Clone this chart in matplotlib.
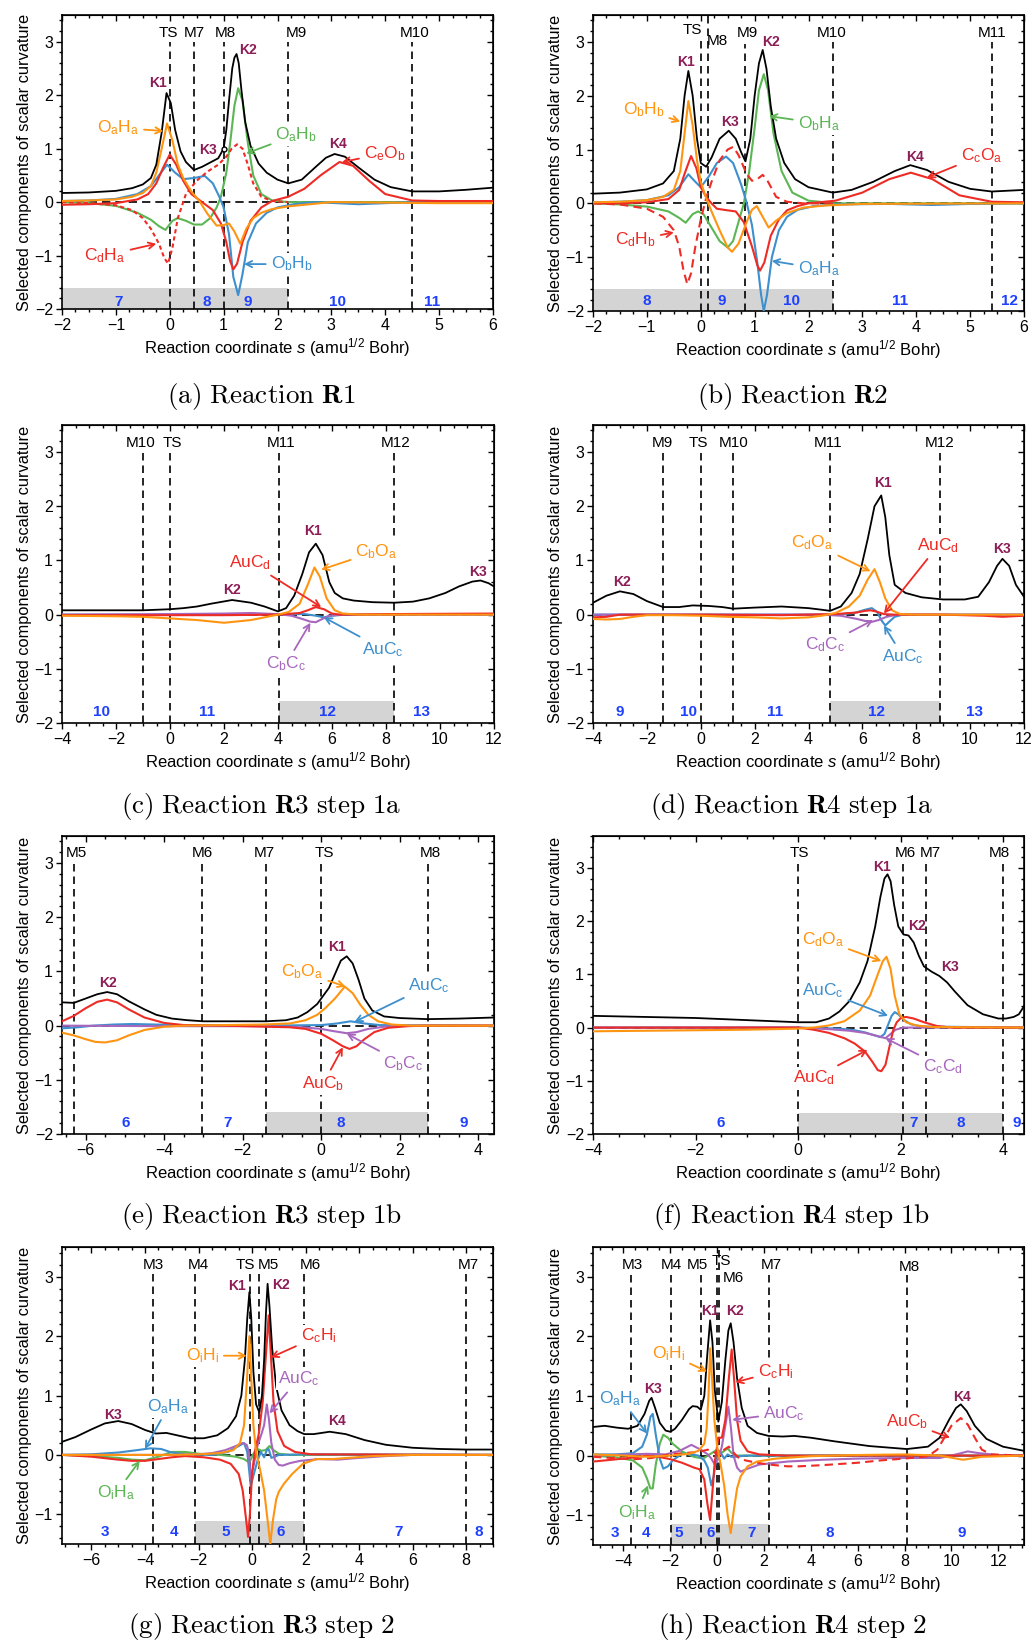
import matplotlib.pyplot as plt
from matplotlib.ticker import MultipleLocator

plt.rcParams['font.family'] = ['Liberation Sans', 'DejaVu Sans']
plt.rcParams['mathtext.fontset'] = 'custom'
plt.rcParams['mathtext.rm'] = 'Liberation Sans'
plt.rcParams['mathtext.it'] = 'Liberation Sans:italic'
plt.rcParams['mathtext.bf'] = 'Liberation Sans:bold'

BLACK = 'black'
ORANGE = '#FF9410'
RED = '#EE2B25'
GREEN = '#5BB653'
BLUE = '#3D8FCD'
PURPLE = '#A867BE'
KCOL = '#8C1D57'
NUMCOL = '#1E40FF'

# ---------------- (a) Reaction R1 ----------------
a_k_s = [-2, -1.5, -1, -0.7, -0.5, -0.35, -0.25, -0.15, -0.06, 0.02, 0.1, 0.2, 0.3, 0.45, 0.6, 0.75, 0.9, 1.0, 1.05, 1.1, 1.16, 1.2, 1.24, 1.28, 1.33, 1.4, 1.5, 1.65, 1.8, 2.0, 2.2, 2.45, 2.7, 2.9, 3.06, 3.25, 3.5, 3.8, 4.1, 4.5, 5.0, 5.5, 6.0]
a_k_v = [0.17, 0.18, 0.21, 0.26, 0.33, 0.45, 0.7, 1.3, 2.04, 1.85, 1.35, 0.95, 0.75, 0.6, 0.66, 0.74, 0.82, 1.0, 1.35, 1.9, 2.5, 2.7, 2.77, 2.6, 2.1, 1.5, 1.05, 0.72, 0.55, 0.42, 0.35, 0.42, 0.65, 0.83, 0.9, 0.85, 0.65, 0.42, 0.28, 0.2, 0.2, 0.23, 0.27]
a_o_s = [-2, -1.5, -1, -0.7, -0.5, -0.35, -0.25, -0.15, -0.05, 0.05, 0.15, 0.25, 0.4, 0.55, 0.7, 0.87, 1.0, 1.1, 1.2, 1.31, 1.42, 1.55, 1.7, 1.9, 2.2, 2.6, 3.0, 4.0, 5.0, 6.0]
a_o_v = [0.02, 0.03, 0.05, 0.1, 0.17, 0.3, 0.55, 1.0, 1.47, 1.15, 0.7, 0.45, 0.2, 0.02, -0.22, -0.44, -0.43, -0.4, -0.55, -0.78, -0.5, -0.3, -0.2, -0.13, -0.08, -0.04, 0, -0.01, -0.02, -0.02]
a_r_s = [-2, -1.5, -1, -0.6, -0.4, -0.25, -0.12, 0, 0.12, 0.25, 0.4, 0.6, 0.8, 0.95, 1.05, 1.12, 1.18, 1.25, 1.35, 1.5, 1.7, 1.9, 2.2, 2.5, 2.8, 3.15, 3.4, 3.7, 4.0, 4.5, 5.0, 6.0]
a_r_v = [-0.05, -0.04, -0.02, 0.05, 0.15, 0.35, 0.65, 0.89, 0.7, 0.4, 0.15, 0, -0.15, -0.4, -0.75, -1.1, -1.26, -1.15, -0.75, -0.35, -0.1, 0.02, 0.1, 0.25, 0.5, 0.75, 0.68, 0.4, 0.15, 0.03, 0.02, 0.02]
a_rd_s = [-2, -1.5, -1, -0.7, -0.5, -0.35, -0.2, -0.1, -0.03, 0.05, 0.15, 0.3, 0.5, 0.7, 0.9, 1.05, 1.15, 1.25, 1.35, 1.45, 1.55, 1.7, 1.9, 2.2]
a_rd_v = [0, -0.02, -0.06, -0.15, -0.3, -0.5, -0.78, -1.05, -1.15, -0.85, -0.3, 0.15, 0.4, 0.57, 0.7, 0.85, 1.0, 1.08, 1.0, 0.7, 0.35, 0.1, 0.02, 0]
a_g_s = [-2, -1.5, -1, -0.6, -0.35, -0.2, -0.08, 0.05, 0.15, 0.3, 0.45, 0.6, 0.75, 0.87, 0.95, 1.05, 1.12, 1.2, 1.27, 1.35, 1.45, 1.55, 1.7, 1.9, 2.2, 3, 6]
a_g_v = [0, -0.02, -0.07, -0.2, -0.33, -0.45, -0.52, -0.35, -0.3, -0.35, -0.42, -0.42, -0.3, -0.1, 0.1, 0.55, 1.1, 1.8, 2.13, 1.9, 1.1, 0.5, 0.15, 0.03, 0, 0, 0]
a_b_s = [-2, -1.5, -1, -0.6, -0.35, -0.2, -0.05, 0.1, 0.25, 0.45, 0.65, 0.8, 0.92, 1.0, 1.1, 1.18, 1.27, 1.35, 1.45, 1.6, 1.8, 2.0, 2.3, 2.7, 3.5, 4.5, 6.0]
a_b_v = [0.02, 0.03, 0.06, 0.15, 0.3, 0.5, 0.7, 0.55, 0.43, 0.45, 0.49, 0.35, 0.1, -0.1, -0.6, -1.4, -1.74, -1.35, -0.75, -0.4, -0.2, -0.1, -0.04, 0, -0.04, 0, 0]
a_vx = [0, 0.45, 1.0, 2.2, 4.5]
a_vname = ['TS', 'M7', 'M8', 'M9', 'M10']
a_region_x = [-0.95, 0.69, 1.45, 3.11, 4.86]
a_region = ['7', '8', '9', '10', '11']

# ---------------- (b) Reaction R2 ----------------
b_k_s = [-2, -1.5, -1, -0.7, -0.5, -0.38, -0.3, -0.23, -0.15, -0.07, 0, 0.1, 0.2, 0.35, 0.52, 0.65, 0.75, 0.83, 0.92, 1.0, 1.08, 1.15, 1.22, 1.3, 1.4, 1.55, 1.75, 2.0, 2.45, 2.8, 3.2, 3.6, 3.89, 4.2, 4.6, 5.0, 5.4, 6.0]
b_k_v = [0.18, 0.2, 0.26, 0.37, 0.6, 1.2, 2.0, 2.46, 2.0, 1.2, 0.75, 0.68, 0.85, 1.2, 1.35, 1.2, 0.95, 0.78, 1.2, 2.0, 2.6, 2.85, 2.5, 1.8, 1.2, 0.75, 0.45, 0.3, 0.2, 0.25, 0.4, 0.6, 0.71, 0.62, 0.4, 0.27, 0.22, 0.25]
b_o_s = [-2, -1.5, -1, -0.7, -0.5, -0.38, -0.3, -0.23, -0.15, -0.07, 0, 0.1, 0.2, 0.35, 0.5, 0.58, 0.7, 0.85, 0.95, 1.04, 1.15, 1.26, 1.4, 1.6, 1.9, 2.3, 3, 6]
b_o_v = [0.02, 0.03, 0.06, 0.12, 0.25, 0.6, 1.3, 1.9, 1.45, 0.8, 0.4, 0.1, -0.15, -0.5, -0.82, -0.9, -0.75, -0.35, -0.12, -0.05, -0.25, -0.45, -0.32, -0.18, -0.08, -0.04, -0.01, 0]
b_r_s = [-2, -1.5, -1, -0.6, -0.4, -0.3, -0.18, -0.08, 0, 0.1, 0.2, 0.3, 0.5, 0.65, 0.8, 0.95, 1.05, 1.1, 1.18, 1.3, 1.45, 1.6, 1.8, 2.0, 2.5, 3.0, 3.5, 3.9, 4.3, 4.8, 5.4, 6]
b_r_v = [0, 0, 0.02, 0.08, 0.25, 0.55, 0.88, 0.65, 0.3, 0.12, 0, -0.1, -0.13, -0.15, -0.35, -0.8, -1.15, -1.25, -1.1, -0.6, -0.3, -0.13, -0.05, 0, 0.05, 0.2, 0.45, 0.57, 0.45, 0.15, 0.03, 0.02]
b_rd_s = [-2, -1.5, -1, -0.7, -0.5, -0.4, -0.32, -0.25, -0.18, -0.1, 0, 0.1, 0.2, 0.35, 0.5, 0.6, 0.7, 0.85, 0.95, 1.05, 1.15, 1.25, 1.4, 1.6, 1.9, 2.5]
b_rd_v = [0, -0.02, -0.1, -0.25, -0.5, -0.8, -1.25, -1.5, -1.3, -0.8, -0.3, 0.1, 0.4, 0.8, 1.0, 1.05, 0.9, 0.55, 0.42, 0.45, 0.53, 0.4, 0.12, 0.03, 0, 0]
b_g_s = [-2, -1.5, -1, -0.6, -0.4, -0.28, -0.15, -0.05, 0.05, 0.2, 0.35, 0.5, 0.6, 0.7, 0.8, 0.9, 1.0, 1.08, 1.17, 1.25, 1.35, 1.5, 1.7, 2.0, 2.5, 6]
b_g_v = [0, -0.02, -0.06, -0.15, -0.27, -0.36, -0.2, -0.15, -0.2, -0.45, -0.7, -0.82, -0.7, -0.35, 0, 0.6, 1.4, 2.1, 2.4, 2.1, 1.3, 0.6, 0.2, 0.05, 0, 0]
b_b_s = [-2, -1.5, -1, -0.6, -0.4, -0.23, -0.1, 0, 0.15, 0.3, 0.47, 0.6, 0.75, 0.85, 0.95, 1.05, 1.12, 1.17, 1.23, 1.32, 1.45, 1.6, 1.8, 2.1, 2.5, 3.5, 4.3, 5, 6]
b_b_v = [0.02, 0.03, 0.06, 0.15, 0.3, 0.54, 0.4, 0.3, 0.5, 0.75, 0.87, 0.75, 0.35, 0.02, -0.4, -1.1, -1.7, -2.0, -1.7, -1.0, -0.5, -0.25, -0.12, -0.05, -0.02, -0.01, -0.03, -0.01, 0]
b_vx = [0, 0.13, 0.83, 2.45, 5.4]
b_vname = ['TS', 'M8', 'M9', 'M10', 'M11']
b_region_x = [-1.01, 0.39, 1.69, 3.7, 5.73]
b_region = ['8', '9', '10', '11', '12']

# ---------------- (c) Reaction R3 step 1a ----------------
c_k_s = [-4, -2, -1, 0, 0.5, 1.0, 1.5, 2.3, 3.0, 3.5, 4.0, 4.3, 4.6, 4.9, 5.15, 5.4, 5.65, 5.9, 6.1, 6.4, 6.8, 7.5, 8.3, 9.0, 9.6, 10.2, 10.7, 11.2, 11.5, 11.8, 12.0]
c_k_v = [0.08, 0.08, 0.08, 0.1, 0.12, 0.15, 0.2, 0.27, 0.22, 0.15, 0.06, 0.12, 0.35, 0.75, 1.15, 1.31, 1.1, 0.6, 0.4, 0.3, 0.26, 0.23, 0.22, 0.24, 0.3, 0.4, 0.52, 0.61, 0.63, 0.58, 0.52]
c_o_s = [-4, -2, -1, 0, 1, 2, 3, 3.5, 4.0, 4.4, 4.8, 5.1, 5.35, 5.55, 5.8, 6.1, 6.4, 7, 12]
c_o_v = [-0.02, -0.03, -0.04, -0.07, -0.1, -0.15, -0.1, -0.05, 0, 0.05, 0.2, 0.55, 0.87, 0.7, 0.3, 0.08, 0.02, 0, 0]
c_r_s = [-4, 0, 2, 4, 4.8, 5.1, 5.4, 5.7, 6.0, 6.3, 8, 12]
c_r_v = [-0.01, -0.01, -0.01, 0, 0.03, 0.08, 0.14, 0.1, 0.02, 0, 0.01, 0.02]
c_p_s = [-4, 0, 2, 3, 4, 4.5, 4.9, 5.2, 5.4, 5.6, 5.9, 6.3, 12]
c_p_v = [0, 0.01, 0.02, 0.03, 0.01, -0.02, -0.08, -0.13, -0.14, -0.09, -0.02, 0, 0]
c_b_s = [-4, 0, 4, 5.0, 5.4, 5.7, 6.0, 6.5, 12]
c_b_v = [0, 0, 0.01, 0.01, -0.02, -0.05, -0.02, 0, 0]
c_vx = [-1.0, 0, 4.04, 8.3]
c_vname = ['M10', 'TS', 'M11', 'M12']
c_region_x = [-2.52, 1.37, 5.84, 9.33]
c_region = ['10', '11', '12', '13']

# ---------------- (d) Reaction R4 step 1a ----------------
d_k_s = [-4, -3.5, -3.0, -2.5, -2.0, -1.4, -0.8, -0.3, 0.3, 0.8, 1.2, 2.0, 3.0, 4.0, 4.5, 4.8, 5.2, 5.6, 5.9, 6.2, 6.45, 6.7, 6.85, 7.0, 7.2, 7.6, 8.2, 9.0, 9.8, 10.3, 10.7, 11.0, 11.2, 11.45, 11.7, 12.0]
d_k_v = [0.22, 0.35, 0.43, 0.38, 0.25, 0.14, 0.14, 0.17, 0.16, 0.14, 0.11, 0.13, 0.15, 0.12, 0.09, 0.07, 0.15, 0.4, 0.75, 1.4, 2.0, 2.2, 1.8, 1.1, 0.55, 0.4, 0.32, 0.28, 0.28, 0.33, 0.6, 0.9, 1.03, 0.9, 0.55, 0.33]
d_o_s = [-4, -3.5, -3.0, -2.5, -2, -1, 0, 1, 2, 3, 4, 4.5, 5.0, 5.5, 5.9, 6.2, 6.45, 6.65, 6.85, 7.1, 7.4, 8, 12]
d_o_v = [-0.08, -0.09, -0.08, -0.04, -0.01, -0.01, -0.02, -0.04, -0.05, -0.07, -0.05, -0.02, 0.03, 0.15, 0.35, 0.65, 0.84, 0.6, 0.3, 0.08, 0.01, 0, 0]
d_r_s = [-4, -3.5, -3, -2, 0, 3, 5, 5.8, 6.1, 6.3, 6.5, 6.8, 7.2, 9, 10.5, 11.2, 12]
d_r_v = [-0.05, -0.04, 0, 0, 0, -0.01, 0.01, 0.04, 0.07, 0.08, 0.06, 0.01, 0, 0, -0.02, -0.04, -0.02]
d_b_s = [-4, 0, 5, 5.7, 6.1, 6.35, 6.55, 6.7, 6.85, 7.0, 7.2, 7.5, 12]
d_b_v = [0, 0, 0, 0.03, 0.09, 0.12, 0.05, -0.1, -0.2, -0.13, -0.04, 0, 0]
d_p_s = [-4, 0, 4.5, 5.2, 5.8, 6.3, 6.6, 6.9, 7.3, 12]
d_p_v = [0, 0, 0, -0.02, -0.08, -0.14, -0.1, -0.04, 0, 0]
d_vx = [-1.4, 0, 1.19, 4.78, 8.9]
d_vname = ['M9', 'TS', 'M10', 'M11', 'M12']
d_region_x = [-3.01, -0.45, 2.76, 6.53, 10.15]
d_region = ['9', '10', '11', '12', '13']

# ---------------- (e) Reaction R3 step 1b ----------------
e_k_s = [-6.6, -6.3, -6.0, -5.7, -5.45, -5.2, -4.9, -4.5, -4.2, -3.8, -3.4, -3.0, -2.0, -1.4, -0.9, -0.6, -0.35, -0.1, 0.05, 0.2, 0.35, 0.5, 0.65, 0.8, 0.95, 1.1, 1.3, 1.6, 2.0, 2.7, 3.5, 4.4]
e_k_v = [0.43, 0.42, 0.5, 0.58, 0.62, 0.58, 0.45, 0.3, 0.2, 0.13, 0.1, 0.08, 0.08, 0.08, 0.1, 0.15, 0.25, 0.4, 0.55, 0.7, 0.95, 1.2, 1.28, 1.15, 0.85, 0.5, 0.28, 0.17, 0.14, 0.12, 0.13, 0.15]
e_r_s = [-6.6, -6.3, -6.0, -5.7, -5.45, -5.2, -4.9, -4.5, -4.0, -3.5, -2.5, -1.4, -0.8, -0.4, 0, 0.3, 0.55, 0.72, 0.9, 1.1, 1.35, 1.7, 2.2, 2.7, 4.4]
e_r_v = [0.08, 0.18, 0.32, 0.44, 0.48, 0.43, 0.3, 0.15, 0.05, 0.01, 0, -0.02, -0.03, -0.06, -0.15, -0.27, -0.38, -0.43, -0.38, -0.25, -0.12, -0.04, -0.01, 0, 0]
e_o_s = [-6.6, -6.3, -6.0, -5.75, -5.5, -5.2, -4.9, -4.5, -4.0, -3.5, -2.5, -1.5, -0.8, -0.4, -0.1, 0.1, 0.35, 0.6, 0.8, 1.0, 1.2, 1.45, 1.8, 2.3, 4.4]
e_o_v = [-0.13, -0.18, -0.25, -0.3, -0.31, -0.27, -0.18, -0.08, -0.02, 0, 0.01, 0.02, 0.04, 0.1, 0.2, 0.32, 0.5, 0.72, 0.6, 0.38, 0.2, 0.08, 0.02, 0, 0]
e_b_s = [-6.6, -6.2, -5.8, -5.3, -4.8, -4.2, -3.5, -1.5, 0, 0.4, 0.75, 1.1, 1.5, 4.4]
e_b_v = [-0.05, -0.03, 0, 0.02, 0.03, 0.02, 0.01, 0, 0.01, 0.04, 0.08, 0.04, 0.01, 0]
e_p_s = [-6.6, -4, -1.5, -0.5, 0, 0.3, 0.65, 0.9, 1.2, 1.6, 2.0, 4.4]
e_p_v = [0, -0.01, -0.01, -0.03, -0.06, -0.1, -0.14, -0.12, -0.06, -0.02, 0, 0]
e_vx = [-6.3, -3.03, -1.41, 0, 2.73]
e_vname = ['M5', 'M6', 'M7', 'TS', 'M8']
e_region_x = [-4.99, -2.38, 0.51, 3.64]
e_region = ['6', '7', '8', '9']

# ---------------- (f) Reaction R4 step 1b ----------------
f_k_s = [-4, -3, -2, -1, -0.5, 0, 0.35, 0.6, 0.8, 1.0, 1.2, 1.35, 1.5, 1.6, 1.68, 1.74, 1.8, 1.87, 1.95, 2.05, 2.15, 2.25, 2.35, 2.45, 2.6, 2.75, 2.9, 3.05, 3.3, 3.6, 3.9, 4.05, 4.2, 4.3, 4.4]
f_k_v = [0.22, 0.2, 0.18, 0.14, 0.12, 0.1, 0.1, 0.17, 0.3, 0.5, 0.85, 1.25, 1.9, 2.45, 2.8, 2.88, 2.75, 2.3, 1.9, 1.75, 1.73, 1.6, 1.35, 1.15, 1.05, 0.97, 0.85, 0.68, 0.42, 0.25, 0.17, 0.17, 0.2, 0.25, 0.4]
f_o_s = [-4, -3, -2, -1, 0, 0.3, 0.6, 0.9, 1.2, 1.4, 1.55, 1.65, 1.72, 1.8, 1.88, 1.97, 2.1, 2.3, 2.6, 4.4]
f_o_v = [-0.07, -0.06, -0.05, -0.04, -0.02, 0, 0.04, 0.12, 0.32, 0.6, 1.0, 1.25, 1.33, 1.1, 0.6, 0.25, 0.1, 0.04, 0.01, 0]
f_r_s = [-4, -1, 0, 0.3, 0.6, 0.9, 1.1, 1.3, 1.45, 1.55, 1.62, 1.7, 1.78, 1.85, 1.92, 2.0, 2.1, 2.25, 2.45, 2.7, 3.0, 4.4]
f_r_v = [0, 0, 0, -0.04, -0.1, -0.2, -0.3, -0.45, -0.65, -0.8, -0.82, -0.7, -0.35, -0.05, 0.1, 0.18, 0.2, 0.17, 0.1, 0.03, 0, 0]
f_b_s = [-4, 0, 0.8, 1.1, 1.3, 1.5, 1.6, 1.68, 1.75, 1.82, 1.88, 1.95, 2.05, 2.2, 2.4, 4.4]
f_b_v = [0, 0, -0.02, -0.05, -0.09, -0.15, -0.18, -0.12, 0.05, 0.22, 0.29, 0.25, 0.15, 0.06, 0.02, 0]
f_p_s = [-4, 0, 0.6, 1.0, 1.3, 1.55, 1.7, 1.8, 1.9, 2.05, 4.4]
f_p_v = [0, 0, -0.03, -0.06, -0.1, -0.16, -0.2, -0.12, -0.04, 0, 0]
f_vx = [0, 2.04, 2.49, 4.0]
f_vname = ['TS', 'M6', 'M7', 'M8']
f_region_x = [-1.52, 2.25, 3.17, 4.26]
f_region = ['6', '7', '8', '9']

# ---------------- (g) Reaction R3 step 2 ----------------
g_k_s = [-7.1, -6.6, -6.0, -5.5, -5.0, -4.5, -4.0, -3.6, -3.2, -2.8, -2.3, -1.8, -1.3, -0.9, -0.6, -0.4, -0.27, -0.18, -0.1, -0.03, 0.05, 0.15, 0.27, 0.37, 0.45, 0.52, 0.58, 0.65, 0.75, 0.9, 1.1, 1.4, 1.7, 1.95, 2.3, 2.9, 3.5, 4.2, 5.0, 6.0, 7.0, 8.0, 9.0]
g_k_v = [0.22, 0.3, 0.43, 0.53, 0.57, 0.52, 0.42, 0.36, 0.37, 0.33, 0.28, 0.28, 0.33, 0.45, 0.65, 1.0, 1.6, 2.3, 2.74, 2.3, 1.4, 0.85, 0.72, 1.0, 1.6, 2.4, 2.88, 2.5, 1.8, 1.15, 0.75, 0.5, 0.4, 0.35, 0.35, 0.39, 0.35, 0.25, 0.17, 0.12, 0.1, 0.09, 0.09]
g_o_s = [-7.1, -5, -3, -2, -1.2, -0.7, -0.45, -0.3, -0.2, -0.1, -0.03, 0.05, 0.15, 0.3, 0.45, 0.58, 0.68, 0.78, 0.9, 1.0, 1.2, 1.5, 1.9, 2.4, 3.0, 3.6, 4.5, 6, 9]
g_o_v = [0, 0, 0, 0.01, 0.03, 0.08, 0.2, 0.5, 1.2, 2.0, 1.3, 0.5, 0.05, -0.25, -0.6, -1.1, -1.5, -1.1, -0.75, -0.62, -0.48, -0.32, -0.15, -0.07, -0.07, -0.05, -0.02, 0, 0]
g_r_s = [-7.1, -6, -5, -4.5, -4.0, -3.5, -3.0, -2.5, -1.8, -1.2, -0.8, -0.5, -0.35, -0.22, -0.15, -0.08, 0, 0.1, 0.25, 0.4, 0.52, 0.62, 0.7, 0.8, 0.95, 1.2, 1.6, 2.2, 9]
g_r_v = [0, -0.03, -0.08, -0.1, -0.1, -0.07, -0.04, -0.02, -0.04, -0.08, -0.15, -0.32, -0.6, -1.1, -1.38, -1.0, -0.3, 0.05, 0.35, 0.9, 1.7, 2.35, 1.7, 0.9, 0.4, 0.15, 0.05, 0.01, 0]
g_g_s = [-7.1, -6, -5, -4.5, -4.0, -3.5, -3.0, -2.5, -2.0, -1.2, -0.6, -0.3, -0.1, 0.05, 0.2, 0.35, 0.5, 0.65, 0.8, 1.0, 1.4, 2, 9]
g_g_v = [0, -0.02, -0.05, -0.08, -0.09, -0.03, 0.05, 0.05, 0.02, 0.0, -0.03, -0.07, -0.13, 0.02, 0.1, 0.07, 0.08, 0.15, 0.08, 0.02, 0, 0, 0]
g_b_s = [-7.1, -6, -5, -4.3, -3.8, -3.4, -3.0, -2.5, -1.5, -0.9, -0.5, -0.3, -0.18, -0.05, 0.08, 0.2, 0.33, 0.45, 0.55, 0.62, 0.72, 0.85, 1.0, 2.0, 9]
g_b_v = [0, 0.01, 0.04, 0.08, 0.11, 0.1, 0.04, 0.01, 0, 0.05, 0.15, 0.2, 0.05, -0.52, -0.3, -0.1, 0.05, -0.04, 0.08, 0.1, -0.05, -0.03, 0, 0.01, 0]
g_p_s = [-7.1, -3, -2, -1.5, -1.0, -0.6, -0.35, -0.2, -0.12, -0.05, 0.05, 0.2, 0.35, 0.45, 0.55, 0.63, 0.72, 0.85, 1.0, 1.15, 1.4, 1.8, 2.5, 3.2, 4.0, 5.0, 6.0, 9]
g_p_v = [0, 0, 0.01, 0.03, 0.08, 0.15, 0.2, 0.17, 0.05, -0.4, -0.2, 0.15, 0.35, 0.5, 0.85, 0.6, 0.2, -0.08, -0.17, -0.18, -0.14, -0.1, -0.07, -0.08, -0.05, -0.02, 0, 0]
g_vx = [-3.69, -2.12, -0.06, 0.25, 1.95, 7.99]
g_vname = ['M3', 'M4', 'TS', 'M5', 'M6', 'M7']
g_region_x = [-5.48, -2.93, -1.0, 1.07, 5.47, 8.47]
g_region = ['3', '4', '5', '6', '7', '8']

# ---------------- (h) Reaction R4 step 2 ----------------
h_k_s = [-5.3, -4.8, -4.3, -3.8, -3.4, -3.1, -2.9, -2.8, -2.65, -2.45, -2.2, -2.0, -1.8, -1.5, -1.2, -1.05, -0.85, -0.7, -0.55, -0.42, -0.3, -0.2, -0.1, 0.05, 0.2, 0.35, 0.48, 0.58, 0.7, 0.85, 1.05, 1.3, 1.7, 2.2, 2.8, 3.3, 4.0, 5.0, 6.5, 8.1, 9.0, 9.5, 9.9, 10.2, 10.4, 10.65, 11.0, 11.5, 12.2, 13.1]
h_k_v = [0.48, 0.5, 0.47, 0.45, 0.5, 0.7, 0.92, 0.97, 0.8, 0.55, 0.42, 0.4, 0.45, 0.6, 0.78, 0.83, 0.82, 0.77, 1.0, 1.7, 2.27, 1.9, 1.1, 0.57, 0.9, 1.6, 2.1, 2.22, 1.9, 1.3, 0.8, 0.5, 0.38, 0.33, 0.32, 0.33, 0.3, 0.24, 0.16, 0.11, 0.15, 0.3, 0.6, 0.8, 0.86, 0.75, 0.5, 0.28, 0.15, 0.08]
h_o_s = [-5.3, -4, -3, -2, -1.2, -0.8, -0.55, -0.45, -0.37, -0.3, -0.22, -0.12, 0, 0.15, 0.3, 0.45, 0.58, 0.7, 0.85, 1.0, 1.3, 1.7, 2.5, 4, 6, 8, 9.5, 10.5, 11.3, 13.1]
h_o_v = [0.02, 0, -0.02, 0, 0.03, 0.08, 0.2, 0.45, 1.0, 1.8, 1.3, 0.6, 0.15, -0.15, -0.5, -1.0, -1.3, -0.95, -0.55, -0.35, -0.18, -0.1, -0.05, -0.01, 0.01, 0.02, 0, -0.07, -0.02, 0]
h_r_s = [-5.3, -4.5, -3.5, -3.0, -2.5, -2.0, -1.5, -1.0, -0.75, -0.55, -0.42, -0.3, -0.2, -0.1, 0.05, 0.2, 0.35, 0.5, 0.62, 0.72, 0.85, 1.0, 1.3, 1.8, 3, 13.1]
h_r_v = [-0.1, -0.07, -0.03, 0, -0.02, -0.06, -0.12, -0.2, -0.23, -0.4, -0.8, -1.08, -0.6, -0.1, 0.3, 0.3, 0.6, 1.3, 1.78, 1.3, 0.6, 0.25, 0.07, 0.02, 0, 0]
h_rd_s = [-5.3, -4.5, -3.5, -2.8, -2.2, -1.5, -0.8, -0.4, -0.1, 0.1, 0.3, 0.5, 0.7, 0.9, 1.2, 1.7, 2.2, 3.0, 3.5, 4.5, 6.0, 7.0, 8.0, 9.0, 9.4, 9.7, 10.0, 10.4, 10.7, 11.0, 11.3, 11.7, 13.1]
h_rd_v = [-0.02, -0.04, -0.06, -0.04, 0.01, 0.04, 0.06, 0.1, 0.05, 0.0, 0.1, 0.15, 0.05, -0.03, -0.08, -0.12, -0.15, -0.18, -0.18, -0.16, -0.12, -0.08, -0.05, -0.01, 0.1, 0.3, 0.5, 0.63, 0.52, 0.3, 0.1, 0.02, 0]
h_b_s = [-5.3, -4.3, -3.6, -3.2, -3.0, -2.85, -2.75, -2.62, -2.45, -2.3, -2.1, -1.9, -1.5, -1.1, -0.8, -0.55, -0.4, -0.25, -0.15, -0.05, 0.05, 0.15, 0.3, 0.45, 0.6, 0.8, 1.2, 13.1]
h_b_v = [0.02, 0.02, 0.04, 0.15, 0.35, 0.65, 0.7, 0.35, -0.05, -0.22, -0.18, -0.08, 0.03, 0.02, 0, -0.08, -0.2, -0.5, -0.35, -0.05, 0.03, 0.05, -0.05, 0.02, -0.02, -0.02, 0, 0]
h_g_s = [-5.3, -4.3, -3.6, -3.2, -3.0, -2.85, -2.75, -2.62, -2.45, -2.3, -2.1, -1.9, -1.5, -1.0, -0.6, -0.4, -0.2, 0, 0.2, 0.45, 0.6, 0.8, 13.1]
h_g_v = [0, -0.03, -0.08, -0.2, -0.38, -0.55, -0.55, -0.15, 0.2, 0.35, 0.3, 0.2, 0.07, -0.02, -0.05, 0, 0.05, 0.1, 0.05, 0.12, 0.05, 0, 0]
h_p_s = [-5.3, -3, -2.2, -1.6, -1.1, -0.7, -0.4, -0.25, -0.1, 0.05, 0.2, 0.35, 0.48, 0.58, 0.7, 0.85, 1.0, 1.3, 1.8, 3.0, 4.5, 6, 8, 9.5, 10.2, 10.7, 11.2, 12, 13.1]
h_p_v = [0, 0.03, 0.02, 0.08, 0.18, 0.1, 0.02, -0.05, -0.15, -0.05, 0.15, 0.5, 0.82, 0.5, 0.0, -0.2, -0.27, -0.22, -0.15, -0.1, -0.07, -0.05, -0.04, -0.04, 0.02, 0.07, 0.04, 0.01, 0]
h_vx = [-3.69, -1.95, -0.68, 0, 0.1, 2.21, 8.09]
h_vname = ['M3', 'M4', 'M5', 'TS', 'M6', 'M7', 'M8']
h_region_x = [-4.37, -3.03, -1.64, -0.27, 1.45, 4.8, 10.44]
h_region = ['3', '4', '5', '6', '7', '8', '9']


fig = plt.figure(figsize=(10.34, 16.41), dpi=100)
W, H = 1034.0, 1641.0


def add_ax(l, t, r, b):
    return fig.add_axes([l / W, 1 - b / H, (r - l) / W, (b - t) / H])


def setup(ax, xlim, ylim, xmaj, xmin):
    ax.set_xlim(*xlim)
    ax.set_ylim(*ylim)
    ax.xaxis.set_major_locator(MultipleLocator(xmaj))
    ax.xaxis.set_minor_locator(MultipleLocator(xmin))
    ax.yaxis.set_major_locator(MultipleLocator(1))
    ax.yaxis.set_minor_locator(MultipleLocator(0.2))
    ax.tick_params(which='both', direction='out', labelsize=11.5, width=1.0, pad=2)
    ax.tick_params(which='major', length=4.5)
    ax.tick_params(which='minor', length=2.5)
    for sp in ax.spines.values():
        sp.set_linewidth(1.2)
    # mirrored ticks pointing inward on top and right
    top = ax.secondary_xaxis('top')
    top.xaxis.set_major_locator(MultipleLocator(xmaj))
    top.xaxis.set_minor_locator(MultipleLocator(xmin))
    top.tick_params(which='both', direction='in', labeltop=False, width=1.0)
    top.tick_params(which='major', length=4.5)
    top.tick_params(which='minor', length=2.5)
    right = ax.secondary_yaxis('right')
    right.yaxis.set_major_locator(MultipleLocator(1))
    right.yaxis.set_minor_locator(MultipleLocator(0.2))
    right.tick_params(which='both', direction='in', labelright=False, width=1.0)
    right.tick_params(which='major', length=4.5)
    right.tick_params(which='minor', length=2.5)
    ax.set_xlabel('Reaction coordinate $s$ (amu$^{1/2}$ Bohr)', fontsize=12, labelpad=2)
    ax.set_ylabel('Selected components of scalar curvature', fontsize=11.8, labelpad=2)
    ax.axhline(0, color='black', lw=1.2, ls=(0, (5, 3)), zorder=3)


def band(ax, x0, x1, y0, y1):
    ax.fill_between([x0, x1], y0, y1, color='#D4D4D4', lw=0, zorder=0)


def vlines(ax, xs, y0, tops, names, lab_pos):
    for x, t, n, (lx, ly) in zip(xs, tops, names, lab_pos):
        ax.plot([x, x], [y0, t], color='black', lw=1.2, ls=(0, (4.5, 3)), zorder=2)
        ax.text(lx, ly, n, ha='center', va='center', fontsize=11)


def regions(ax, xs, names, y):
    for x, n in zip(xs, names):
        ax.text(x, y, n, ha='center', va='center', fontsize=11,
                color=NUMCOL, fontweight='bold', zorder=5)


def kl(ax, pts):
    for n, (x, y) in pts.items():
        ax.text(x, y, n, ha='center', va='center', fontsize=10,
                color=KCOL, fontweight='bold', zorder=6)


def lab(ax, txt, color, xt, tip):
    # labels sit on a white patch that hides the dashed guide lines behind them
    ax.annotate(txt, xy=tip, xytext=xt, ha='center', va='center',
                fontsize=12.5, color=color, zorder=7,
                bbox=dict(boxstyle='square,pad=0.12', fc='white', ec='none'),
                arrowprops=dict(arrowstyle='->,head_length=0.35,head_width=0.18',
                                color=color, lw=1.3, shrinkA=2, shrinkB=0))


def curve(ax, s, v, color, ls='-', lw=1.5):
    ax.plot(s, v, color=color, lw=lw, ls=ls, zorder=4)


def caption(x, y, letter, rname, extra=''):
    fig.text(x / W, 1 - y / H,
             r'$\mathrm{(' + letter + r')\ Reaction\ }\mathbf{' + rname + r'}' +
             (r'\mathrm{\ ' + extra + r'}' if extra else '') + r'$',
             ha='center', va='center', fontsize=19.5, math_fontfamily='cm')


# ---- panel (a)
ax = add_ax(62, 15, 493, 309)
setup(ax, (-2, 6), (-2, 3.5), 1, 0.25)
band(ax, -2, 2.2, -2, -1.6)
vlines(ax, a_vx, -2, [3.0] * 5, a_vname,
       [(-0.03, 3.17), (0.46, 3.17), (1.03, 3.17), (2.35, 3.17), (4.54, 3.17)])
curve(ax, a_g_s, a_g_v, GREEN)
curve(ax, a_b_s, a_b_v, BLUE)
curve(ax, a_rd_s, a_rd_v, RED, ls=(0, (2, 1.5)))
curve(ax, a_r_s, a_r_v, RED)
curve(ax, a_o_s, a_o_v, ORANGE)
curve(ax, a_k_s, a_k_v, BLACK, lw=1.3)
ax.plot([1.0], [1.0], 'o', ms=3.5, mfc='white', mec='black', mew=1.0, zorder=5)
regions(ax, a_region_x, a_region, -1.86)
kl(ax, {'K1': (-0.22, 2.23), 'K2': (1.45, 2.84), 'K3': (0.71, 0.97), 'K4': (3.12, 1.09)})
lab(ax, r'$\mathrm{O_aH_a}$', ORANGE, (-0.96, 1.39), (-0.12, 1.33))
lab(ax, r'$\mathrm{O_aH_b}$', GREEN, (2.35, 1.26), (1.42, 0.91))
lab(ax, r'$\mathrm{C_eO_b}$', RED, (3.99, 0.91), (3.2, 0.75))
lab(ax, r'$\mathrm{C_dH_a}$', RED, (-1.2, -1.0), (-0.25, -0.78))
lab(ax, r'$\mathrm{O_bH_b}$', BLUE, (2.26, -1.16), (1.38, -1.16))

# ---- panel (b)
ax = add_ax(593, 15, 1024, 311)
setup(ax, (-2, 6), (-2, 3.5), 1, 0.25)
band(ax, -2, 2.45, -2, -1.6)
vlines(ax, b_vx, -2, [3.02, 3.5, 2.97, 3.0, 3.0], b_vname,
       [(-0.15, 3.22), (0.3, 3.02), (0.86, 3.17), (2.43, 3.17), (5.4, 3.17)])
curve(ax, b_g_s, b_g_v, GREEN)
curve(ax, b_b_s, b_b_v, BLUE)
curve(ax, b_rd_s, b_rd_v, RED, ls=(0, (4, 2.5)))
curve(ax, b_r_s, b_r_v, RED)
curve(ax, b_o_s, b_o_v, ORANGE)
curve(ax, b_k_s, b_k_v, BLACK, lw=1.3)
regions(ax, b_region_x, b_region, -1.81)
kl(ax, {'K1': (-0.28, 2.62), 'K2': (1.31, 3.0), 'K3': (0.55, 1.52), 'K4': (3.98, 0.86)})
lab(ax, r'$\mathrm{O_bH_b}$', ORANGE, (-1.06, 1.74), (-0.38, 1.52))
lab(ax, r'$\mathrm{O_bH_a}$', GREEN, (2.19, 1.49), (1.27, 1.62))
lab(ax, r'$\mathrm{C_cO_a}$', RED, (5.21, 0.89), (4.2, 0.48))
lab(ax, r'$\mathrm{C_dH_b}$', RED, (-1.21, -0.68), (-0.5, -0.54))
lab(ax, r'$\mathrm{O_aH_a}$', BLUE, (2.19, -1.21), (1.32, -1.07))

# ---- panel (c)
ax = add_ax(62, 425, 494, 723)
setup(ax, (-4, 12), (-2, 3.5), 2, 0.5)
band(ax, 4.04, 8.3, -2, -1.6)
vlines(ax, c_vx, -2, [3.0] * 4, c_vname,
       [(-1.1, 3.16), (0.07, 3.16), (4.1, 3.16), (8.37, 3.16)])
curve(ax, c_b_s, c_b_v, BLUE)
curve(ax, c_p_s, c_p_v, PURPLE)
curve(ax, c_r_s, c_r_v, RED)
curve(ax, c_o_s, c_o_v, ORANGE)
curve(ax, c_k_s, c_k_v, BLACK, lw=1.3)
regions(ax, c_region_x, c_region, -1.8)
kl(ax, {'K1': (5.3, 1.55), 'K2': (2.3, 0.45), 'K3': (11.4, 0.78)})
lab(ax, r'$\mathrm{C_bO_a}$', ORANGE, (7.65, 1.17), (5.6, 0.83))
lab(ax, r'$\mathrm{AuC_d}$', RED, (2.98, 0.96), (5.6, 0.14))
lab(ax, r'$\mathrm{C_bC_c}$', PURPLE, (4.3, -0.91), (5.2, -0.15))
lab(ax, r'$\mathrm{AuC_c}$', BLUE, (7.9, -0.64), (5.7, -0.05))

# ---- panel (d)
ax = add_ax(593, 425, 1024, 723)
setup(ax, (-4, 12), (-2, 3.5), 2, 0.5)
band(ax, 4.78, 8.9, -2, -1.6)
vlines(ax, d_vx, -2, [3.0] * 5, d_vname,
       [(-1.44, 3.17), (-0.07, 3.17), (1.22, 3.17), (4.72, 3.17), (8.88, 3.17)])
curve(ax, d_b_s, d_b_v, BLUE)
curve(ax, d_p_s, d_p_v, PURPLE)
curve(ax, d_r_s, d_r_v, RED)
curve(ax, d_o_s, d_o_v, ORANGE)
curve(ax, d_k_s, d_k_v, BLACK, lw=1.3)
regions(ax, d_region_x, d_region, -1.79)
kl(ax, {'K1': (6.78, 2.43), 'K2': (-2.92, 0.61), 'K3': (11.2, 1.21)})
lab(ax, r'$\mathrm{C_dO_a}$', ORANGE, (4.15, 1.32), (6.3, 0.8))
lab(ax, r'$\mathrm{AuC_d}$', RED, (8.82, 1.28), (6.8, 0.02))
lab(ax, r'$\mathrm{C_dC_c}$', PURPLE, (4.62, -0.56), (6.4, -0.1))
lab(ax, r'$\mathrm{AuC_c}$', BLUE, (7.52, -0.78), (6.8, -0.2))

# ---- panel (e)
ax = add_ax(62, 836, 494, 1134)
setup(ax, (-6.6, 4.4), (-2, 3.5), 2, 0.5)
band(ax, -1.41, 2.73, -2, -1.6)
vlines(ax, e_vx, -2, [3.0] * 5, e_vname,
       [(-6.24, 3.18), (-3.03, 3.18), (-1.44, 3.18), (0.07, 3.18), (2.77, 3.18)])
curve(ax, e_b_s, e_b_v, BLUE)
curve(ax, e_p_s, e_p_v, PURPLE)
curve(ax, e_r_s, e_r_v, RED)
curve(ax, e_o_s, e_o_v, ORANGE)
curve(ax, e_k_s, e_k_v, BLACK, lw=1.3)
regions(ax, e_region_x, e_region, -1.8)
kl(ax, {'K1': (0.39, 1.45), 'K2': (-5.43, 0.78)})
lab(ax, r'$\mathrm{C_bO_a}$', ORANGE, (-0.48, 0.99), (0.62, 0.72))
lab(ax, r'$\mathrm{AuC_c}$', BLUE, (2.75, 0.74), (0.85, 0.07))
lab(ax, r'$\mathrm{C_bC_c}$', PURPLE, (2.09, -0.7), (0.65, -0.15))
lab(ax, r'$\mathrm{AuC_b}$', RED, (0.05, -1.07), (0.55, -0.4))

# ---- panel (f)
ax = add_ax(593, 836, 1024, 1134)
setup(ax, (-4, 4.4), (-2, 3.6), 2, 0.5)
band(ax, 0, 4.0, -2, -1.6)
vlines(ax, f_vx, -2, [3.1] * 4, f_vname,
       [(0.03, 3.28), (2.08, 3.28), (2.58, 3.28), (3.92, 3.28)])
curve(ax, f_b_s, f_b_v, BLUE)
curve(ax, f_p_s, f_p_v, PURPLE)
curve(ax, f_r_s, f_r_v, RED)
curve(ax, f_o_s, f_o_v, ORANGE)
curve(ax, f_k_s, f_k_v, BLACK, lw=1.3)
regions(ax, f_region_x, f_region, -1.79)
kl(ax, {'K1': (1.64, 3.02), 'K2': (2.31, 1.9), 'K3': (2.95, 1.13)})
lab(ax, r'$\mathrm{C_dO_a}$', ORANGE, (0.48, 1.65), (1.62, 1.25))
lab(ax, r'$\mathrm{AuC_c}$', BLUE, (0.48, 0.7), (1.75, 0.22))
lab(ax, r'$\mathrm{C_cC_d}$', PURPLE, (2.82, -0.74), (1.7, -0.2))
lab(ax, r'$\mathrm{AuC_d}$', RED, (0.3, -0.95), (1.35, -0.42))

# ---- panel (g)
ax = add_ax(62, 1247, 493, 1544)
setup(ax, (-7.1, 9.0), (-1.5, 3.5), 2, 0.5)
band(ax, -2.12, 1.95, -1.5, -1.12)
vlines(ax, g_vx, -1.5, [3.05] * 6, g_vname,
       [(-3.68, 3.2), (-2.02, 3.2), (-0.25, 3.2), (0.62, 3.2), (2.16, 3.2), (8.07, 3.2)])
curve(ax, g_g_s, g_g_v, GREEN)
curve(ax, g_b_s, g_b_v, BLUE)
curve(ax, g_p_s, g_p_v, PURPLE)
curve(ax, g_r_s, g_r_v, RED)
curve(ax, g_o_s, g_o_v, ORANGE)
curve(ax, g_k_s, g_k_v, BLACK, lw=1.3)
regions(ax, g_region_x, g_region, -1.3)
kl(ax, {'K1': (-0.57, 2.84), 'K2': (1.08, 2.86), 'K3': (-5.19, 0.68), 'K4': (3.19, 0.57)})
lab(ax, r'$\mathrm{O_iH_i}$', ORANGE, (-1.86, 1.67), (-0.2, 1.67))
lab(ax, r'$\mathrm{C_cH_i}$', RED, (2.48, 2.0), (0.7, 1.64))
lab(ax, r'$\mathrm{AuC_c}$', PURPLE, (1.74, 1.28), (0.65, 0.7))
lab(ax, r'$\mathrm{O_aH_a}$', BLUE, (-3.12, 0.82), (-4.0, 0.1))
lab(ax, r'$\mathrm{O_iH_a}$', GREEN, (-5.07, -0.64), (-4.2, -0.1))

# ---- panel (h)
ax = add_ax(593, 1247, 1024, 1545)
setup(ax, (-5.3, 13.1), (-1.5, 3.5), 2, 0.5)
band(ax, -1.95, 2.21, -1.5, -1.14)
vlines(ax, h_vx, -1.5, [3.03, 3.03, 3.03, 3.15, 3.5, 3.03, 3.03], h_vname,
       [(-3.63, 3.2), (-1.97, 3.2), (-0.85, 3.2), (0.18, 3.27), (0.68, 2.98), (2.3, 3.2), (8.2, 3.17)])
curve(ax, h_g_s, h_g_v, GREEN)
curve(ax, h_b_s, h_b_v, BLUE)
curve(ax, h_p_s, h_p_v, PURPLE)
curve(ax, h_rd_s, h_rd_v, RED, ls=(0, (4, 2.5)))
curve(ax, h_r_s, h_r_v, RED)
curve(ax, h_o_s, h_o_v, ORANGE)
curve(ax, h_k_s, h_k_v, BLACK, lw=1.3)
regions(ax, h_region_x, h_region, -1.3)
kl(ax, {'K1': (-0.31, 2.43), 'K2': (0.74, 2.43), 'K3': (-2.74, 1.11), 'K4': (10.44, 0.99)})
lab(ax, r'$\mathrm{O_iH_i}$', ORANGE, (-2.07, 1.71), (-0.43, 1.41))
lab(ax, r'$\mathrm{C_cH_i}$', RED, (2.49, 1.41), (0.78, 1.23))
lab(ax, r'$\mathrm{AuC_c}$', PURPLE, (2.85, 0.71), (0.64, 0.6))
lab(ax, r'$\mathrm{AuC_b}$', RED, (8.09, 0.57), (9.94, 0.3))
lab(ax, r'$\mathrm{O_aH_a}$', BLUE, (-4.13, 0.96), (-2.99, 0.37))
lab(ax, r'$\mathrm{O_iH_a}$', GREEN, (-3.42, -0.95), (-2.95, -0.5))

# ---- captions
caption(261, 397, 'a', 'R1')
caption(792, 397, 'b', 'R2')
caption(261, 806, 'c', 'R3', 'step\ 1a')
caption(792, 806, 'd', 'R4', 'step\ 1a')
caption(261, 1216, 'e', 'R3', 'step\ 1b')
caption(792, 1216, 'f', 'R4', 'step\ 1b')
caption(261, 1627, 'g', 'R3', 'step\ 2')
caption(792, 1627, 'h', 'R4', 'step\ 2')

fig.savefig('out.png', dpi=100)
